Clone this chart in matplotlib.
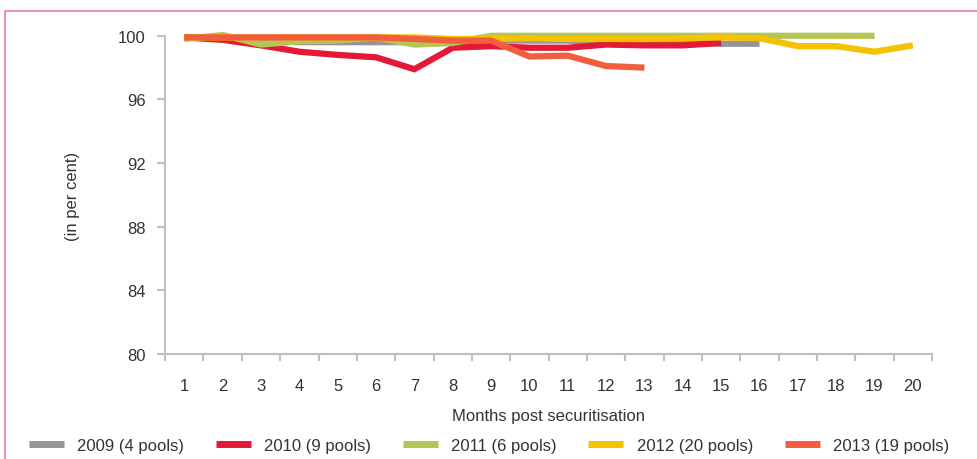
import matplotlib
matplotlib.use("Agg")
import matplotlib.pyplot as plt
from matplotlib.patches import Rectangle

plt.rcParams['font.family'] = ['Liberation Sans', 'DejaVu Sans']

months = list(range(1, 21))

pools_2009 = [99.9, 99.8, 99.7, 99.6, 99.6, 99.6, 99.6, 99.6, 99.7, 99.7,
              99.7, 99.6, 99.6, 99.6, 99.5, 99.5]
pools_2010 = [99.9, 99.75, 99.4, 99.0, 98.8, 98.65, 97.9, 99.25, 99.35, 99.25,
              99.25, 99.45, 99.4, 99.4, 99.55]
pools_2011 = [99.8, 100.05, 99.45, 99.65, 99.7, 99.9, 99.45, 99.55, 100.0, 100.0,
              100.0, 100.0, 100.0, 100.0, 100.0, 100.0, 100.0, 100.0, 100.0]
pools_2012 = [99.9, 99.9, 99.9, 99.9, 99.9, 99.9, 99.9, 99.8, 99.8, 99.85,
              99.8, 99.8, 99.8, 99.85, 99.9, 99.85, 99.35, 99.35, 99.0, 99.4]
pools_2013 = [99.9, 99.9, 99.9, 99.9, 99.9, 99.9, 99.8, 99.7, 99.7, 98.7,
              98.75, 98.1, 98.0]

series = [
    ("2009 (4 pools)", pools_2009, "#939598"),
    ("2010 (9 pools)", pools_2010, "#E31937"),
    ("2011 (6 pools)", pools_2011, "#B5C556"),
    ("2012 (20 pools)", pools_2012, "#F4C200"),
    ("2013 (19 pools)", pools_2013, "#F15E3E"),
]

fig = plt.figure(figsize=(9.77, 4.6), dpi=100)
ax = fig.add_axes([0.169, 0.228, 0.785, 0.692])

for label, vals, color in series:
    ax.plot(months[:len(vals)], vals, color=color, lw=4.5, label=label,
            solid_capstyle="butt", solid_joinstyle="miter", clip_on=False)

ax.set_ylim(80, 100)
ax.set_xlim(0.5, 20.5)
ax.set_yticks(range(80, 101, 4))
ax.set_xticks(months)
ax.set_xticks([m + 0.5 for m in range(0, 21)], minor=True)

grey = "#BFBFC3"
txt = "#333333"
for s in ["top", "right"]:
    ax.spines[s].set_visible(False)
for s in ["left", "bottom"]:
    ax.spines[s].set_color(grey)
    ax.spines[s].set_linewidth(1.5)

ax.tick_params(axis="y", colors=grey, length=6, width=1.5, labelcolor=txt,
               labelsize=12, pad=8)
ax.tick_params(axis="x", which="major", length=0, labelcolor=txt,
               labelsize=12, pad=17)
ax.tick_params(axis="x", which="minor", length=5, width=1.5, color=grey)

ax.set_ylabel("(in per cent)", fontsize=12, color=txt, labelpad=27)
ax.set_xlabel("Months post securitisation", fontsize=12, color=txt, labelpad=11)

leg = fig.legend(loc="lower left", bbox_to_anchor=(0.014, -0.02), ncol=5,
                 frameon=False, fontsize=12, handlelength=2.1, handletextpad=0.8,
                 columnspacing=1.9, labelcolor=txt)
for h in leg.get_lines():
    h.set_linewidth(5)

# pink frame round the chart
fig.add_artist(Rectangle((0.005, -0.05), 1.2, 1.023, transform=fig.transFigure,
                         fill=False, edgecolor="#EE8090", lw=1.2))

fig.savefig("out.png", dpi=100)
